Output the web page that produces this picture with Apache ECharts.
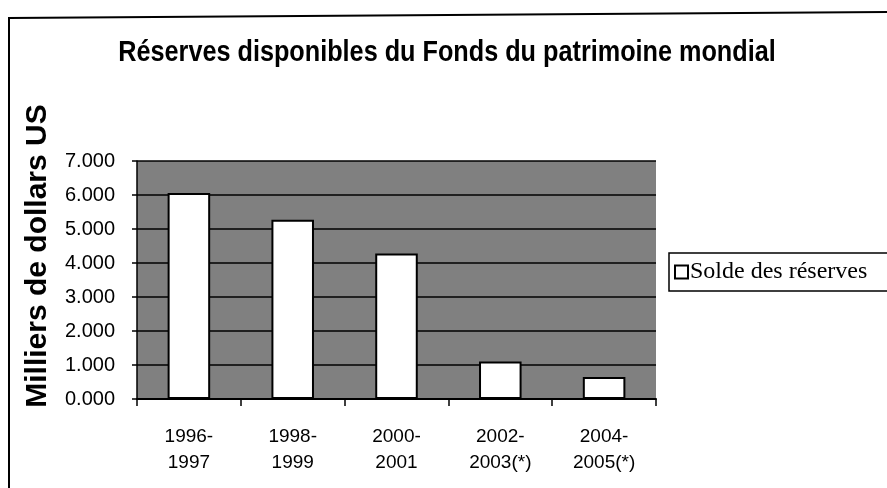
<!DOCTYPE html>
<html>
<head>
    <meta charset="utf-8" />
    <title>Réserves disponibles du Fonds du patrimoine mondial</title>
    <script src="https://cdn.jsdelivr.net/npm/echarts@6/dist/echarts.min.js"></script>
    <style>
        html, body { margin: 0; padding: 0; background: #fff; }
        #main { width: 887px; height: 488px; }
    </style>
</head>
<body>
<div id="main"></div>
<script type="text/javascript">
    // données (milliers de dollars US)
    var periodes = ['1996-\n1997', '1998-\n1999', '2000-\n2001', '2002-\n2003(*)', '2004-\n2005(*)'];
    var solde = [6060, 5270, 4280, 1100, 650];
    var yTicks = [0, 1000, 2000, 3000, 4000, 5000, 6000, 7000];

    var myChart = echarts.init(document.getElementById('main'));

    var option = {
        backgroundColor: '#fff',
        animation: false,
        graphic: [
            {   // cadre du graphique
                type: 'polyline',
                shape: { points: [[9, 488], [9, 18], [887, 12]] },
                style: { stroke: '#000', lineWidth: 2, fill: null }
            },
            {   // titre (police condensée)
                type: 'text',
                x: 447, y: 53,
                scaleX: 0.87,
                style: {
                    text: 'Réserves disponibles du Fonds du patrimoine mondial',
                    font: 'bold 29px "Liberation Sans", Arial, sans-serif',
                    fill: '#000',
                    align: 'center',
                    verticalAlign: 'middle'
                }
            },
            {   // titre de l'axe des valeurs
                type: 'text',
                x: 38, y: 256,
                rotation: Math.PI / 2,
                style: {
                    text: 'Milliers de dollars US',
                    font: 'bold 30px "Liberation Sans", Arial, sans-serif',
                    fill: '#000',
                    align: 'center',
                    verticalAlign: 'middle'
                }
            }
        ],
        legend: {
            left: 669,
            top: 253,
            data: ['Solde des réserves'],
            orient: 'vertical',
            itemWidth: 13,
            itemHeight: 13,
            itemGap: 0,
            padding: [7, 60, 7, 5],
            borderColor: '#000',
            borderWidth: 1.5,
            borderRadius: 0,
            backgroundColor: '#fff',
            icon: 'rect',
            textStyle: {
                fontFamily: '"Liberation Serif", "Times New Roman", serif',
                fontSize: 24,
                color: '#000',
                padding: [0, 0, 0, -3]
            }
        },
        grid: {
            left: 137,
            right: 231,
            top: 161,
            bottom: 89,
            show: true,
            backgroundColor: '#808080',
            borderWidth: 0
        },
        xAxis: {
            type: 'category',
            data: periodes,
            axisLine: { lineStyle: { color: '#000', width: 2 } },
            axisTick: { show: true, alignWithLabel: false, length: 7, lineStyle: { color: '#000', width: 1.5 } },
            axisLabel: {
                color: '#000',
                fontFamily: '"Liberation Sans", Arial, sans-serif',
                fontSize: 19,
                lineHeight: 26,
                margin: 25
            }
        },
        yAxis: {
            type: 'value',
            min: yTicks[0],
            max: yTicks[yTicks.length - 1],
            interval: 1000,
            axisLine: { show: true, lineStyle: { color: '#000', width: 1.5 } },
            axisTick: { show: true, length: 5, lineStyle: { color: '#000', width: 1.5 } },
            axisLabel: {
                color: '#000',
                fontFamily: '"Liberation Sans", Arial, sans-serif',
                fontSize: 20,
                margin: 22,
                formatter: function (v) {
                    return (v / 1000).toFixed(3);
                }
            },
            splitLine: { show: true, lineStyle: { color: '#000', width: 1.5 } }
        },
        series: [
            {
                name: 'Solde des réserves',
                type: 'bar',
                data: solde,
                barWidth: '41%',
                itemStyle: {
                    color: '#fff',
                    borderColor: '#000',
                    borderWidth: 2
                }
            }
        ]
    };

    myChart.setOption(option);
</script>
</body>
</html>
